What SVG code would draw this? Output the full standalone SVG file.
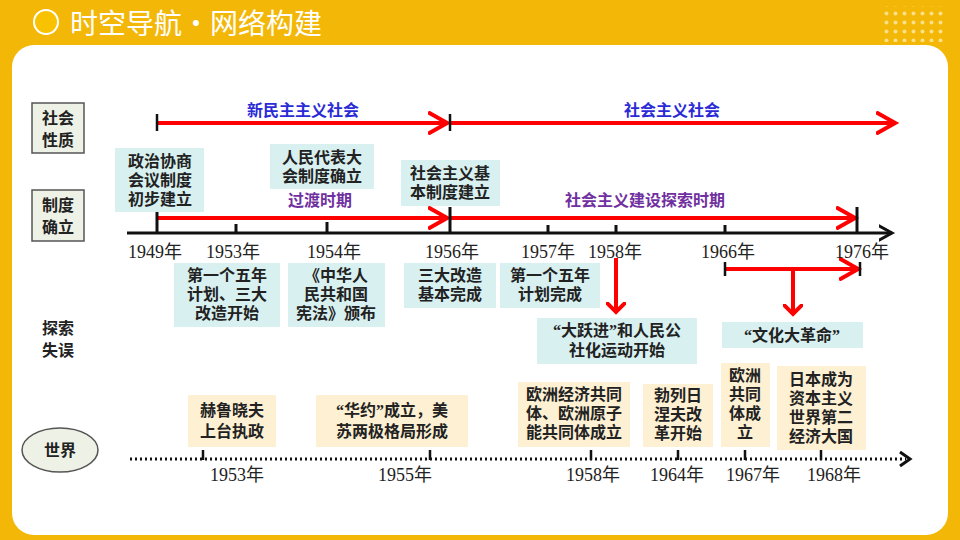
<svg xmlns="http://www.w3.org/2000/svg" width="960" height="540" viewBox="0 0 960 540">
<style>
.t{font-family:"Liberation Serif","Noto Sans CJK SC",serif;font-size:16px;font-weight:bold;fill:#222;text-anchor:middle}
.y{font-family:"Liberation Serif","Noto Sans CJK SC",serif;font-size:18px;fill:#222;text-anchor:middle}
.c{fill:#D8F0F0}
.w{fill:#FDF0D3}
.r{stroke:#FF0000;stroke-width:4;fill:none}
.k{stroke:#111;stroke-width:3;fill:none}
.lb{fill:#EEF2E6;stroke:#555;stroke-width:1.5}
</style>
<defs>
<marker id="ra" markerWidth="6" markerHeight="6" refX="4.5" refY="3" orient="auto" markerUnits="strokeWidth"><path d="M0,0.3 L4.8,3 L0,5.7" fill="none" stroke="#FF0000" stroke-width="1"/></marker>
<marker id="rd" markerWidth="5" markerHeight="5" refX="2.5" refY="2.5" orient="auto" markerUnits="strokeWidth"><path d="M0,0 L2.5,2.5 L0,5" fill="none" stroke="#FF0000" stroke-width="1"/></marker>
<marker id="ka" markerWidth="6" markerHeight="6" refX="4.5" refY="3" orient="auto" markerUnits="strokeWidth"><path d="M0,0.5 L4.5,3 L0,5.5" fill="none" stroke="#111" stroke-width="1"/></marker>
<pattern id="dots" width="9" height="9" patternUnits="userSpaceOnUse"><circle cx="4.5" cy="4.5" r="2" fill="#FBE08A"/></pattern>
</defs>
<rect width="960" height="540" fill="#F3B707"/>
<rect x="880" y="6" width="63" height="36" fill="url(#dots)"/>
<rect x="12" y="45" width="936" height="490" rx="22" fill="#fff"/>
<circle cx="46" cy="22" r="12" fill="#F9C200" stroke="#fff" stroke-width="2"/>
<text x="70" y="34" font-family="Noto Sans CJK SC,sans-serif" font-size="28" fill="#fff">时空导航·网络构建</text>

<g id="labels">
<rect class="lb" x="32" y="103" width="52" height="50"/>
<text class="t" x="58" y="124" font-size="17">社会</text><text class="t" x="58" y="146" font-size="17">性质</text>
<rect class="lb" x="32" y="190" width="52" height="51"/>
<text class="t" x="58" y="211" font-size="17">制度</text><text class="t" x="58" y="233" font-size="17">确立</text>
<text class="t" x="58" y="334" font-size="17">探索</text><text class="t" x="58" y="356" font-size="17">失误</text>
<ellipse cx="60" cy="450" rx="38" ry="22" fill="#EEF2E6" stroke="#555" stroke-width="1.5"/>
<text class="t" x="60" y="456" font-size="17">世界</text>
</g>

<g id="connectors">
<path class="r" d="M157,123 H446" marker-end="url(#ra)"/>
<path class="r" d="M451,123 H894" marker-end="url(#ra)"/>
<path d="M157,114 V131 M450,114 V131" stroke="#111" stroke-width="2.5"/>
<path class="k" d="M127,233 H892" marker-end="url(#ka)"/>
<path class="r" d="M157,218 H446" marker-end="url(#ra)"/>
<path class="r" d="M451,218 H854" marker-end="url(#ra)"/>
<path d="M157,212 V233 M236,224 V233 M327,222 V233 M450,207 V233 M548,225 V233 M616,225 V233 M725,225 V233 M857,207 V233" stroke="#111" stroke-width="3"/>
<path class="r" d="M616,258 V312" marker-end="url(#rd)"/>
<path class="r" d="M725,269 H857" marker-end="url(#ra)"/>
<path d="M725,262 V276 M860,262 V276" stroke="#111" stroke-width="2.5"/>
<path class="r" d="M793,269 V314" marker-end="url(#rd)"/>
<path d="M130,459 H906" stroke="#111" stroke-width="3" stroke-dasharray="2 3"/>
<path d="M900,452 L910,459 L900,466" fill="none" stroke="#111" stroke-width="3"/>
<path d="M203,450 V460 M430,450 V460 M591,450 V460 M678,450 V460 M745,450 V460 M821,450 V460" stroke="#111" stroke-width="2.5"/>
</g>

<g id="periods">
<text class="t" x="303" y="116" fill="#2B2BD6" style="fill:#2B2BD6" font-size="17">新民主主义社会</text>
<text class="t" x="672" y="116" style="fill:#2B2BD6" font-size="17">社会主义社会</text>
<text class="t" x="320" y="206" style="fill:#7030A0" font-size="17">过渡时期</text>
<text class="t" x="645" y="206" style="fill:#7030A0" font-size="17">社会主义建设探索时期</text>
</g>

<g id="years">
<text class="y" x="155" y="258">1949年</text><text class="y" x="233" y="258">1953年</text>
<text class="y" x="334" y="258">1954年</text><text class="y" x="452" y="258">1956年</text>
<text class="y" x="548" y="258">1957年</text><text class="y" x="615" y="258">1958年</text>
<text class="y" x="728" y="258">1966年</text><text class="y" x="862" y="258">1976年</text>
<text class="y" x="237" y="481">1953年</text><text class="y" x="405" y="481">1955年</text>
<text class="y" x="593" y="481">1958年</text><text class="y" x="677" y="481">1964年</text>
<text class="y" x="753" y="481">1967年</text><text class="y" x="834" y="481">1968年</text>
</g>

<g id="n1"><rect class="c" x="115" y="148" width="89" height="64"/><text class="t" x="160" y="167">政治协商</text><text class="t" x="160" y="186">会议制度</text><text class="t" x="160" y="205">初步建立</text></g>
<g id="n2"><rect class="c" x="270" y="144" width="104" height="45"/><text class="t" x="322" y="163">人民代表大</text><text class="t" x="322" y="182">会制度确立</text></g>
<g id="n3"><rect class="c" x="401" y="160" width="99" height="46"/><text class="t" x="450" y="179">社会主义基</text><text class="t" x="450" y="198">本制度建立</text></g>
<g id="n4"><rect class="c" x="174" y="263" width="106" height="64"/><text class="t" x="227" y="281">第一个五年</text><text class="t" x="227" y="300">计划、三大</text><text class="t" x="227" y="319">改造开始</text></g>
<g id="n5"><rect class="c" x="288" y="263" width="97" height="64"/><text class="t" x="336" y="281">《中华人</text><text class="t" x="336" y="300">民共和国</text><text class="t" x="336" y="319">宪法》颁布</text></g>
<g id="n6"><rect class="c" x="404" y="263" width="92" height="45"/><text class="t" x="450" y="281">三大改造</text><text class="t" x="450" y="300">基本完成</text></g>
<g id="n7"><rect class="c" x="500" y="263" width="100" height="45"/><text class="t" x="550" y="281">第一个五年</text><text class="t" x="550" y="300">计划完成</text></g>
<g id="n8"><rect class="c" x="537" y="318" width="160" height="46"/><text class="t" x="617" y="336">“大跃进”和人民公</text><text class="t" x="617" y="356">社化运动开始</text></g>
<g id="n9"><rect class="c" x="722" y="322" width="141" height="26"/><text class="t" x="792" y="341">“文化大革命”</text></g>
<g id="w1"><rect class="w" x="188" y="395" width="88" height="52"/><text class="t" x="232" y="416">赫鲁晓夫</text><text class="t" x="232" y="437">上台执政</text></g>
<g id="w2"><rect class="w" x="316" y="395" width="152" height="52"/><text class="t" x="392" y="416">“华约”成立，美</text><text class="t" x="392" y="437">苏两极格局形成</text></g>
<g id="w3"><rect class="w" x="518" y="382" width="112" height="65"/><text class="t" x="574" y="400">欧洲经济共同</text><text class="t" x="574" y="419">体、欧洲原子</text><text class="t" x="574" y="438">能共同体成立</text></g>
<g id="w4"><rect class="w" x="643" y="384" width="70" height="63"/><text class="t" x="678" y="401">勃列日</text><text class="t" x="678" y="420">涅夫改</text><text class="t" x="678" y="439">革开始</text></g>
<g id="w5"><rect class="w" x="721" y="363" width="49" height="84"/><text class="t" x="745" y="381">欧洲</text><text class="t" x="745" y="400">共同</text><text class="t" x="745" y="419">体成</text><text class="t" x="745" y="438">立</text></g>
<g id="w6"><rect class="w" x="777" y="366" width="89" height="84"/><text class="t" x="821" y="385">日本成为</text><text class="t" x="821" y="404">资本主义</text><text class="t" x="821" y="423">世界第二</text><text class="t" x="821" y="442">经济大国</text></g>
</svg>
